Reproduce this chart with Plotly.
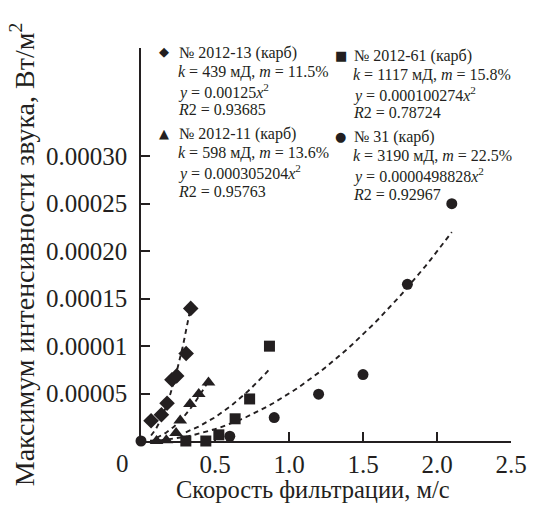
import numpy as np
import plotly.graph_objects as go

# Filtration speed (m/s) and max sound intensity (W/m^2) per core sample
speed_2012_13 = [0.068, 0.138, 0.176, 0.209, 0.241, 0.305, 0.336]
intensity_2012_13 = [0.0000213, 0.0000276, 0.0000398, 0.0000646, 0.0000686, 0.0000922, 0.0001397]

speed_2012_11 = [0.105, 0.171, 0.237, 0.265, 0.331, 0.390, 0.456]
intensity_2012_11 = [0.0, 0.0000007, 0.0000084, 0.0000215, 0.0000390, 0.0000496, 0.0000617]

speed_2012_61 = [0.303, 0.438, 0.526, 0.636, 0.734, 0.868]
intensity_2012_61 = [0.0, 0.0, 0.0000065, 0.0000234, 0.0000443, 0.0000999]

speed_31 = [0.0, 0.6, 0.9, 1.2, 1.5, 1.8, 2.1]
intensity_31 = [0.0, 0.0000050, 0.0000247, 0.0000493, 0.0000700, 0.0001650, 0.0002500]

# Quadratic fit coefficients y = a*x^2
fit_2012_13 = 0.00125
fit_2012_11 = 0.000305204
fit_2012_61 = 0.000100274
fit_31 = 0.0000498828

x_tick_vals = [0.5, 1.0, 1.5, 2.0, 2.5]
x_tick_text = ["0.5", "1.0", "1.5", "2.0", "2.5"]
y_tick_vals = [0.00005, 0.00010, 0.00015, 0.00020, 0.00025, 0.00030]
y_tick_text = ["0.00005", "0.00001", "0.00015", "0.00020", "0.00025", "0.00030"]

INK = "#231f20"
FONT = "Liberation Serif, Times New Roman, Times, serif"

series = [
    (speed_2012_13, intensity_2012_13, fit_2012_13, "diamond", 12),
    (speed_2012_11, intensity_2012_11, fit_2012_11, "triangle-up", 12),
    (speed_2012_61, intensity_2012_61, fit_2012_61, "square", 11),
    (speed_31, intensity_31, fit_31, "circle", 11),
]

fig = go.Figure()

for xs, ys, a, symbol, size in series:
    xf = np.linspace(min(xs), max(xs), 60)
    fig.add_trace(go.Scatter(
        x=xf, y=a * xf ** 2, mode="lines",
        line=dict(color=INK, width=1.9, dash="5px,4px"),
        hoverinfo="skip", showlegend=False, cliponaxis=False,
    ))

for xs, ys, a, symbol, size in series:
    fig.add_trace(go.Scatter(
        x=xs, y=ys, mode="markers",
        marker=dict(symbol=symbol, size=size, color=INK, line=dict(width=0)),
        showlegend=False, cliponaxis=False,
    ))

L, R, T, B = 141, 18, 48, 65
W, H = 539, 506
PW, PH = W - L - R, H - T - B


def px(xp):
    return (xp - L) / PW


def py(yp):
    return (H - B - yp) / PH


blocks = [
    (165, 180, 52, "◆", "№ 2012-13 (карб)",
     ["<i>k</i> = 439 мД, <i>m</i> = 11.5%", "<i>y</i> = 0.00125<i>x</i><sup>2</sup>",
      "<i>R</i>2 = 0.93685"]),
    (165, 180, 133, "▲", "№ 2012-11 (карб)",
     ["<i>k</i> = 598 мД, <i>m</i> = 13.6%", "<i>y</i> = 0.000305204<i>x</i><sup>2</sup>",
      "<i>R</i>2 = 0.95763"]),
    (346, 360, 55, "■", "№ 2012-61 (карб)",
     ["<i>k</i> = 1117 мД, <i>m</i> = 15.8%", "<i>y</i> = 0.000100274<i>x</i><sup>2</sup>",
      "<i>R</i>2 = 0.78724"]),
    (346, 360, 136, "●", "№ 31 (карб)",
     ["<i>k</i> = 3190 мД, <i>m</i> = 22.5%", "<i>y</i> = 0.0000498828<i>x</i><sup>2</sup>",
      "<i>R</i>2 = 0.92967"]),
]

LINE_STEP = 19
annotations = []
for mx, tx, ty, glyph, title, lines in blocks:
    annotations.append(dict(
        x=px(mx), y=py(ty), xref="paper", yref="paper", text=glyph,
        showarrow=False, xanchor="center", yanchor="middle",
        font=dict(family="DejaVu Sans", size=13, color=INK),
    ))
    for i, line in enumerate([title] + lines):
        annotations.append(dict(
            x=px(tx - 2 if i == 0 else tx - 3), y=py(ty + 1 + i * LINE_STEP),
            xref="paper", yref="paper", text=line,
            showarrow=False, xanchor="left", yanchor="middle",
            font=dict(family=FONT, size=16, color=INK),
        ))

# corner zero shared by both axes
annotations.append(dict(
    x=px(122), y=py(463), xref="paper", yref="paper", text="0",
    showarrow=False, xanchor="center", yanchor="middle",
    font=dict(family=FONT, size=25, color=INK),
))
# axis titles
annotations.append(dict(
    x=px(318), y=py(489), xref="paper", yref="paper",
    text="Скорость фильтрации, м/с",
    showarrow=False, xanchor="center", yanchor="middle",
    font=dict(family=FONT, size=24.5, color=INK),
))
annotations.append(dict(
    x=px(19), y=py(255), xref="paper", yref="paper",
    text="Максимум интенсивности звука, Вт/м<sup>2</sup>", textangle=-90,
    showarrow=False, xanchor="center", yanchor="middle",
    font=dict(family=FONT, size=28, color=INK),
))

fig.update_layout(
    width=W, height=H,
    margin=dict(l=L, r=R, t=T, b=B),
    paper_bgcolor="white", plot_bgcolor="white",
    showlegend=False,
    annotations=annotations,
    xaxis=dict(
        range=[0, 2.5], tickvals=x_tick_vals, ticktext=x_tick_text,
        ticks="inside", ticklen=9, tickwidth=1.5, tickcolor=INK,
        showline=True, linecolor=INK, linewidth=1.5,
        showgrid=False, zeroline=False,
        tickfont=dict(family=FONT, size=25, color=INK),
    ),
    yaxis=dict(
        range=[0, 0.000414], tickvals=y_tick_vals, ticktext=y_tick_text,
        ticks="inside", ticklen=9, tickwidth=1.5, tickcolor=INK,
        showline=True, linecolor=INK, linewidth=1.5,
        showgrid=False, zeroline=False, ticklabelstandoff=7,
        tickfont=dict(family=FONT, size=25, color=INK),
    ),
)

fig.write_html("out.html")
